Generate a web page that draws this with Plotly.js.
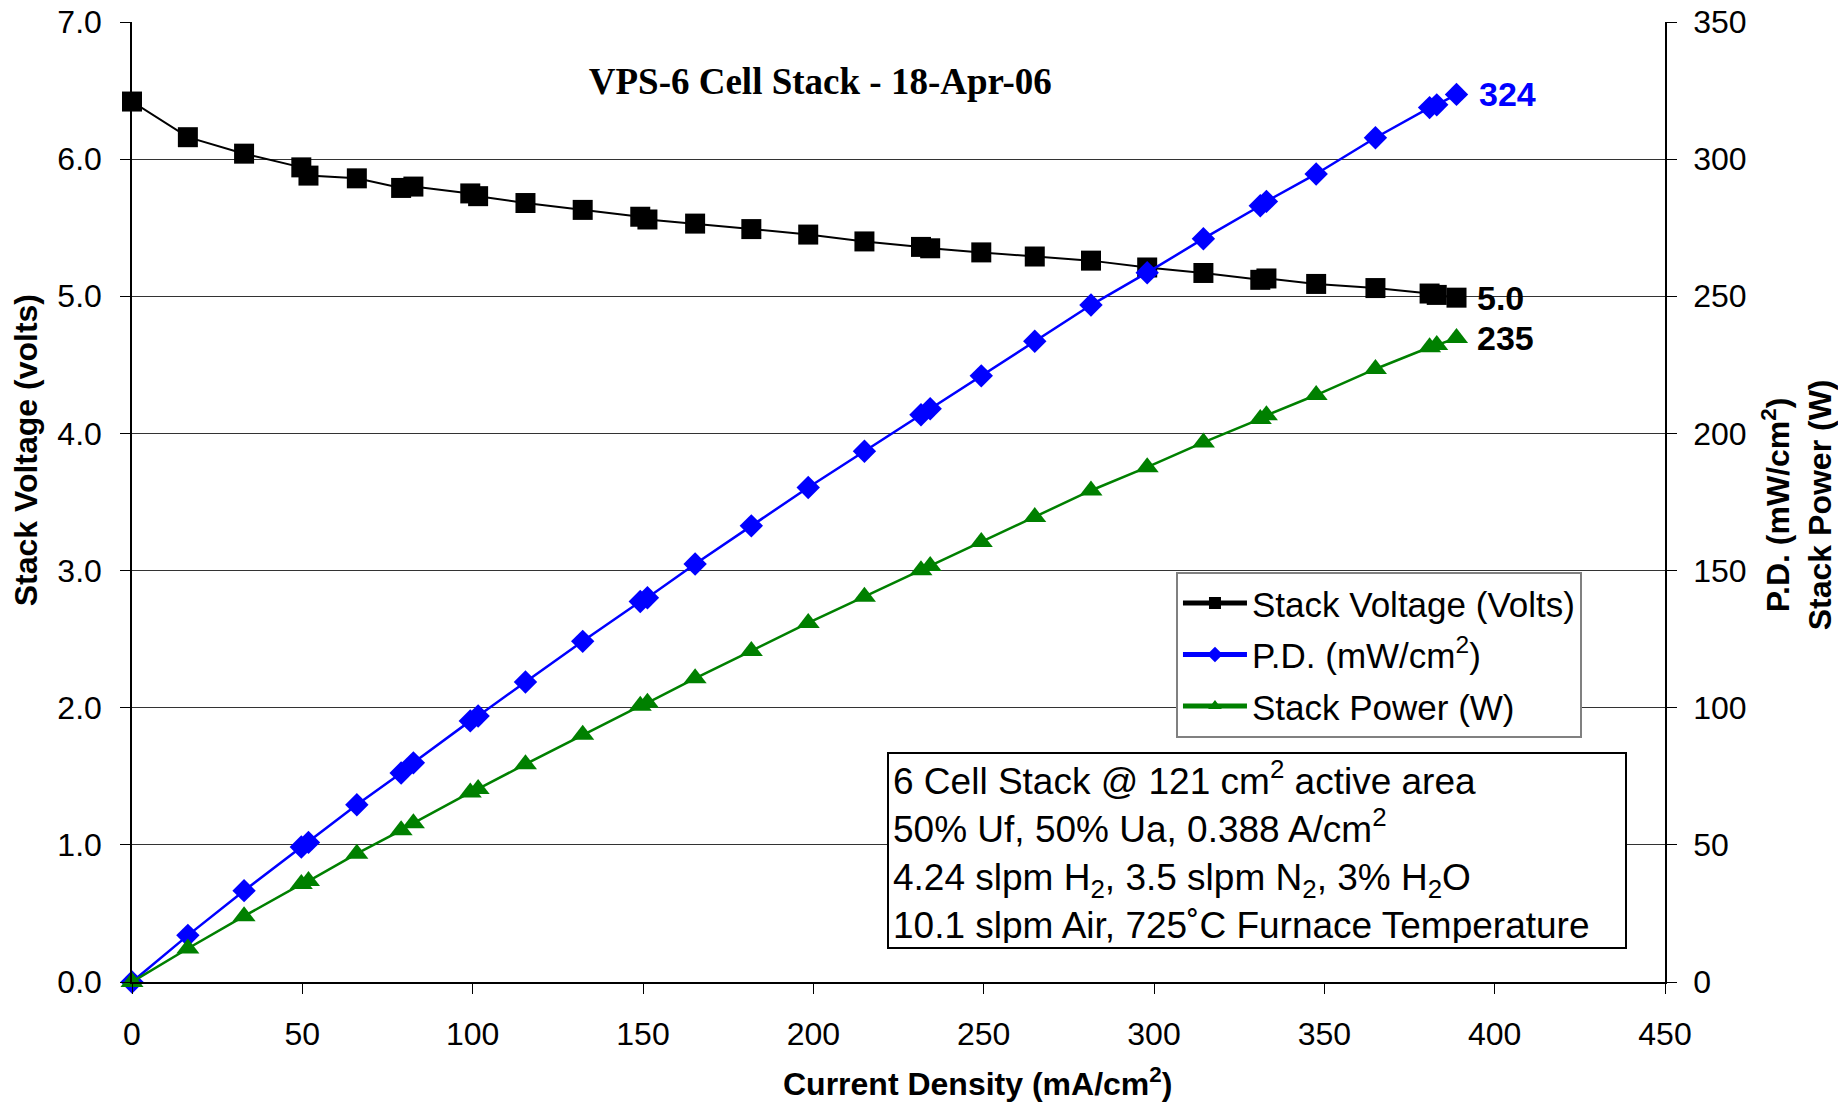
<!DOCTYPE html>
<html>
<head>
<meta charset="utf-8">
<script src="https://cdn.plot.ly/plotly-3.0.1.min.js"></script>
<style>
  html, body { margin: 0; padding: 0; background: #fff; }
  #chart { width: 1838px; height: 1102px; }
</style>
</head>
<body>
<div id="chart"></div>
<script>
// Current density (mA/cm2)
const currentDensity = [0, 16.4, 32.9, 49.7, 51.8, 66.0, 79.0, 82.6, 99.3, 101.6, 115.5, 132.3, 149.2, 151.3, 165.3, 181.8, 198.5, 215.0, 231.6, 234.3, 249.3, 265.0, 281.5, 298.0, 314.5, 331.2, 333.0, 347.6, 365.0, 380.9, 383.0, 388.8];
// Stack voltage (V)
const stackVoltage = [6.42, 6.16, 6.04, 5.94, 5.88, 5.86, 5.79, 5.80, 5.75, 5.73, 5.68, 5.63, 5.58, 5.56, 5.53, 5.49, 5.45, 5.40, 5.36, 5.35, 5.32, 5.29, 5.26, 5.21, 5.17, 5.12, 5.13, 5.09, 5.06, 5.02, 5.01, 4.99];
// Power density (mW/cm2)
const powerDensity = [0, 17.0, 33.3, 49.2, 50.9, 64.6, 76.2, 79.9, 95.2, 97.0, 109.4, 124.2, 138.7, 140.1, 152.4, 166.3, 180.3, 193.5, 206.8, 209.0, 221.0, 233.6, 246.8, 258.6, 271.0, 283.0, 284.6, 294.6, 307.8, 318.8, 319.8, 323.6];
// Stack power (W)
const stackPower = [0, 12.2, 24.0, 35.7, 36.8, 46.8, 55.3, 57.9, 69.1, 70.4, 79.4, 90.1, 100.7, 101.8, 110.7, 120.7, 130.9, 140.5, 150.1, 151.7, 160.4, 169.5, 179.2, 187.7, 196.7, 205.3, 206.6, 214.0, 223.5, 231.4, 232.2, 234.8];

const seriesNames = ['Stack Voltage (Volts)', 'P.D. (mW/cm<sup>2</sup>)', 'Stack Power (W)'];
const xTicks = [0, 50, 100, 150, 200, 250, 300, 350, 400, 450];
const yTicks = [0, 1, 2, 3, 4, 5, 6, 7];
const y2Ticks = [0, 50, 100, 150, 200, 250, 300, 350];

const chartTitle = 'VPS-6 Cell Stack - 18-Apr-06';
const xTitle = 'Current Density (mA/cm<sup>2</sup>)';
const yTitle = 'Stack Voltage (volts)';
const y2Title = 'P.D. (mW/cm<sup>2</sup>)<br>Stack Power (W)';
const infoLines = [
  '6 Cell Stack @ 121 cm<sup>2</sup> active area',
  '50% Uf, 50% Ua, 0.388 A/cm<sup>2</sup>',
  '4.24 slpm H<sub>2</sub>, 3.5 slpm N<sub>2</sub>, 3% H<sub>2</sub>O',
  '10.1 slpm Air, 725˚C Furnace Temperature'
];

const SANS = "'Liberation Sans', Arial, Helvetica, sans-serif";
const SERIF = "'Liberation Serif', 'Times New Roman', serif";
const last = currentDensity.length - 1;

const traces = [
  {
    x: currentDensity, y: stackVoltage, name: seriesNames[0], yaxis: 'y',
    type: 'scatter', mode: 'lines+markers', cliponaxis: false,
    legendgroup: 'a',
    line: {color: '#000000', width: 2},
    marker: {symbol: 'square', size: 20, color: '#000000'}
  },
  {
    x: currentDensity, y: powerDensity, name: seriesNames[1], yaxis: 'y2',
    type: 'scatter', mode: 'lines+markers', cliponaxis: false,
    legendgroup: 'b',
    line: {color: '#0000FF', width: 2.5},
    marker: {symbol: 'diamond', size: 18, color: '#0000FF'}
  },
  {
    x: currentDensity, y: stackPower, name: seriesNames[2], yaxis: 'y2',
    type: 'scatter', mode: 'lines+markers', cliponaxis: false,
    legendgroup: 'c',
    line: {color: '#008000', width: 2.5},
    marker: {symbol: 'triangle-up', size: 20, color: '#008000'}
  }
];

const layout = {
  width: 1838, height: 1102,
  paper_bgcolor: '#ffffff', plot_bgcolor: '#ffffff',
  margin: {l: 132, r: 173, t: 22, b: 120, pad: 0},
  showlegend: true,
  font: {family: SANS, color: '#000000', size: 30},
  title: {
    text: chartTitle,
    font: {family: SERIF, size: 37, color: '#000000', weight: 'bold'},
    xref: 'paper', yref: 'paper', x: 0.449, y: 0.938,
    xanchor: 'center', yanchor: 'middle'
  },
  xaxis: {
    range: [0, 450], tickvals: xTicks, ticktext: xTicks.map(String),
    showgrid: false, zeroline: false,
    showline: true, linecolor: '#000000', linewidth: 1.5,
    ticks: 'outside', ticklen: 10, tickcolor: '#000000', tickwidth: 1,
    ticklabelstandoff: 13,
    tickfont: {family: SANS, size: 32, color: '#000000'}
  },
  yaxis: {
    range: [0, 7], tickvals: yTicks, ticktext: yTicks.map(v => v.toFixed(1)),
    showgrid: true, gridcolor: '#333333', gridwidth: 1,
    zeroline: false,
    showline: true, linecolor: '#000000', linewidth: 1.5,
    ticks: 'outside', ticklen: 10, tickcolor: '#000000', tickwidth: 1,
    ticklabelstandoff: 12,
    tickfont: {family: SANS, size: 32, color: '#000000'}
  },
  yaxis2: {
    range: [0, 350], tickvals: y2Ticks, ticktext: y2Ticks.map(String),
    overlaying: 'y', side: 'right',
    showgrid: false, zeroline: false,
    showline: true, linecolor: '#000000', linewidth: 1.5,
    ticks: 'outside', ticklen: 10, tickcolor: '#000000', tickwidth: 1,
    ticklabelstandoff: 10,
    tickfont: {family: SANS, size: 32, color: '#000000'}
  },
  legend: {
    x: 0.681, y: 0.4274, xanchor: 'left', yanchor: 'top',
    xref: 'paper', yref: 'paper',
    bgcolor: '#ffffff', bordercolor: '#808080', borderwidth: 2,
    font: {family: SANS, size: 35, color: '#000000'},
    tracegroupgap: 3,
    itemwidth: 64,
    itemsizing: 'constant'
  },
  annotations: [
    {
      text: infoLines.join('<br>'),
      xref: 'paper', yref: 'paper', x: 0.4922, y: 0.2399,
      xanchor: 'left', yanchor: 'top',
      showarrow: false, align: 'left', valign: 'middle',
      width: 728, height: 185,
      bgcolor: '#ffffff', bordercolor: '#000000', borderwidth: 2, borderpad: 4,
      font: {family: SANS, size: 37, color: '#000000'}
    },
    {
      text: yTitle, textangle: -90,
      xref: 'paper', yref: 'paper', x: -0.0694, y: 0.5534,
      xanchor: 'center', yanchor: 'middle', showarrow: false,
      font: {family: SANS, size: 32, color: '#000000', weight: 'bold'}
    },
    {
      text: y2Title, textangle: -90,
      xref: 'paper', yref: 'paper', x: 1.0858, y: 0.4972,
      xanchor: 'center', yanchor: 'middle', showarrow: false, align: 'center',
      font: {family: SANS, size: 32, color: '#000000', weight: 'bold'}
    },
    {
      text: xTitle,
      xref: 'paper', yref: 'paper', x: 0.5516, y: -0.104,
      xanchor: 'center', yanchor: 'middle', showarrow: false,
      font: {family: SANS, size: 32, color: '#000000', weight: 'bold'}
    },
    {
      text: String(Math.round(powerDensity[last])),
      xref: 'x', yref: 'y2', x: currentDensity[last], y: powerDensity[last],
      xanchor: 'left', yanchor: 'middle', xshift: 20, showarrow: false,
      font: {family: SANS, size: 34, color: '#0000FF', weight: 'bold'}
    },
    {
      text: stackVoltage[last].toFixed(1),
      xref: 'x', yref: 'y', x: currentDensity[last], y: stackVoltage[last],
      xanchor: 'left', yanchor: 'middle', xshift: 18, showarrow: false,
      font: {family: SANS, size: 34, color: '#000000', weight: 'bold'}
    },
    {
      text: String(Math.round(stackPower[last])),
      xref: 'x', yref: 'y2', x: currentDensity[last], y: stackPower[last],
      xanchor: 'left', yanchor: 'middle', xshift: 18, showarrow: false,
      font: {family: SANS, size: 34, color: '#000000', weight: 'bold'}
    }
  ]
};

Plotly.newPlot('chart', traces, layout, {displayModeBar: false, responsive: false});
</script>
</body>
</html>
